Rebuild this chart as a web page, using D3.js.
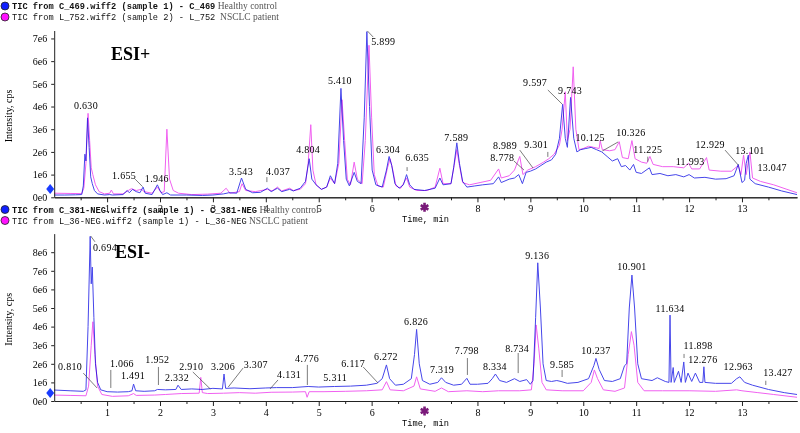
<!DOCTYPE html>
<html>
<head>
<meta charset="utf-8">
<script src="https://cdn.jsdelivr.net/npm/d3@7"></script>
<style>
  body { margin: 0; background: #fff; }
  text { font-family: "Liberation Serif", serif; fill: #000; }
  .mono { font-family: "Liberation Mono", monospace; }
  .axis text { font-family: "Liberation Serif", serif; font-size: 10px; fill: #000; }
  .axis path, .axis line { stroke: #222; }
  .trace { fill: none; stroke-width: 1; stroke-linejoin: round; mix-blend-mode: multiply; }
  .leader { stroke: #444; stroke-width: 0.7; }
</style>
</head>
<body>
<div id="chart"></div>
<script>
const dimensions = { width: 800, height: 433 };

// x ticks (minutes); 7 is replaced by the marker symbol
const timeTicks = [1, 2, 3, 4, 5, 6, 8, 9, 10, 11, 12, 13];
const timeMinorTicks = [0.5, 1.5, 2.5, 3.5, 4.5, 5.5, 6.5, 7.5, 8.5, 9.5, 10.5, 11.5, 12.5, 13.5];
const markerTime = 7;

const posIntensityTicks = [0, 1, 2, 3, 4, 5, 6, 7];
const negIntensityTicks = [0, 1, 2, 3, 4, 5, 6, 7, 8];

// ESI+ traces: [time (min), intensity (1e6 cps)]
const posHealthy = [
  [0.00, 0.10], [0.20, 0.10], [0.40, 0.11], [0.52, 0.12], [0.55, 0.50], [0.58, 1.90], [0.60, 1.60],
  [0.63, 3.50], [0.66, 2.20], [0.69, 0.90], [0.72, 0.60], [0.76, 0.30], [0.82, 0.15], [0.95, 0.10],
  [1.05, 0.12], [1.10, 0.10], [1.30, 0.12], [1.38, 0.30], [1.42, 0.20], [1.48, 0.35], [1.55, 0.25],
  [1.62, 0.20], [1.68, 0.45], [1.72, 0.18], [1.85, 0.12], [1.95, 0.55], [2.00, 0.30], [2.05, 0.12],
  [2.13, 0.20], [2.20, 0.10], [2.50, 0.10], [2.80, 0.08], [3.00, 0.10], [3.20, 0.15], [3.30, 0.20],
  [3.45, 0.18], [3.54, 0.85], [3.62, 0.35], [3.75, 0.20], [3.90, 0.22], [4.03, 0.40], [4.10, 0.25],
  [4.22, 0.40], [4.30, 0.25], [4.45, 0.35], [4.52, 0.28], [4.65, 0.40], [4.75, 0.70], [4.82, 1.70],
  [4.87, 0.80], [4.95, 0.55], [5.05, 0.35], [5.15, 0.45], [5.22, 0.95], [5.30, 0.60], [5.36, 1.50],
  [5.42, 4.80], [5.47, 2.50], [5.52, 0.80], [5.58, 0.50], [5.67, 1.10], [5.73, 0.70], [5.80, 0.60],
  [5.86, 3.50], [5.91, 7.30], [5.96, 4.00], [6.01, 1.20], [6.08, 0.55], [6.20, 0.45], [6.28, 1.20],
  [6.33, 1.80], [6.38, 1.40], [6.44, 0.60], [6.52, 0.40], [6.60, 0.55], [6.66, 1.00], [6.72, 0.55],
  [6.80, 0.35], [7.00, 0.30], [7.20, 0.40], [7.29, 0.85], [7.35, 0.55], [7.50, 0.60], [7.55, 1.30],
  [7.61, 2.40], [7.66, 1.50], [7.72, 0.70], [7.80, 0.45], [7.95, 0.50], [8.10, 0.55], [8.30, 0.60],
  [8.40, 0.90], [8.45, 0.65], [8.60, 0.80], [8.70, 0.85], [8.78, 1.00], [8.85, 0.60], [8.92, 1.10],
  [9.00, 1.15], [9.10, 1.25], [9.20, 1.40], [9.30, 1.55], [9.40, 1.65], [9.48, 1.90], [9.55, 2.60],
  [9.61, 4.10], [9.66, 2.60], [9.70, 2.20], [9.76, 4.40], [9.82, 2.60], [9.88, 2.00], [9.95, 2.10],
  [10.05, 2.15], [10.15, 2.20], [10.25, 2.10], [10.35, 2.00], [10.45, 1.80], [10.55, 1.60], [10.65, 1.70],
  [10.72, 1.35], [10.80, 1.40], [10.88, 1.20], [10.95, 1.45], [11.00, 1.10], [11.10, 1.05], [11.25, 1.30],
  [11.30, 1.00], [11.45, 1.05], [11.60, 0.95], [11.75, 1.00], [11.90, 0.90], [12.00, 1.00], [12.10, 0.85],
  [12.30, 0.88], [12.50, 0.80], [12.70, 0.82], [12.85, 0.95], [12.93, 1.45], [13.00, 0.65], [13.05, 0.75],
  [13.08, 1.50], [13.12, 1.86], [13.15, 0.80], [13.25, 0.60], [13.50, 0.45], [13.75, 0.28], [14.04, 0.12]
];

const posPatient = [
  [0.00, 0.18], [0.30, 0.17], [0.52, 0.16], [0.56, 0.40], [0.60, 1.50], [0.64, 3.70], [0.67, 2.50],
  [0.70, 1.30], [0.73, 1.00], [0.78, 0.55], [0.85, 0.25], [0.95, 0.15], [1.05, 0.18], [1.08, 0.32],
  [1.12, 0.15], [1.30, 0.15], [1.40, 0.30], [1.46, 0.38], [1.55, 0.30], [1.65, 0.35], [1.70, 0.25],
  [1.85, 0.18], [1.95, 0.45], [2.02, 0.20], [2.08, 0.25], [2.13, 3.00], [2.18, 0.80], [2.25, 0.30],
  [2.35, 0.18], [2.60, 0.12], [2.90, 0.14], [3.15, 0.18], [3.25, 0.40], [3.32, 0.18], [3.50, 0.25],
  [3.55, 0.60], [3.62, 0.30], [3.80, 0.25], [4.03, 0.35], [4.12, 0.28], [4.22, 0.45], [4.30, 0.28],
  [4.45, 0.40], [4.52, 0.30], [4.65, 0.35], [4.75, 0.60], [4.80, 1.50], [4.85, 3.20], [4.89, 1.20],
  [4.95, 0.55], [5.05, 0.35], [5.15, 0.45], [5.22, 0.85], [5.30, 0.60], [5.38, 1.50], [5.44, 4.30],
  [5.49, 2.50], [5.54, 0.80], [5.60, 0.55], [5.67, 1.55], [5.73, 0.80], [5.82, 0.60], [5.88, 2.50],
  [5.95, 6.70], [6.00, 3.50], [6.05, 1.00], [6.12, 0.50], [6.22, 0.45], [6.30, 1.30], [6.35, 1.70],
  [6.40, 1.20], [6.46, 0.50], [6.55, 0.40], [6.66, 0.85], [6.72, 0.45], [6.85, 0.30], [7.05, 0.30],
  [7.20, 0.45], [7.29, 1.28], [7.35, 0.60], [7.50, 0.60], [7.56, 1.40], [7.61, 2.10], [7.66, 1.40],
  [7.72, 0.65], [7.85, 0.55], [8.05, 0.65], [8.25, 0.75], [8.40, 1.25], [8.45, 0.85], [8.60, 0.95],
  [8.70, 1.20], [8.80, 1.80], [8.86, 1.00], [8.95, 1.20], [9.10, 1.35], [9.25, 1.55], [9.35, 1.70],
  [9.45, 1.90], [9.55, 2.30], [9.60, 3.00], [9.66, 4.65], [9.70, 2.50], [9.75, 3.00], [9.81, 5.75],
  [9.86, 3.00], [9.92, 2.10], [10.00, 2.15], [10.10, 2.25], [10.20, 2.20], [10.30, 2.15], [10.32, 2.50],
  [10.36, 2.10], [10.50, 2.05], [10.60, 2.10], [10.68, 2.45], [10.74, 1.75], [10.85, 1.70], [10.92, 2.50],
  [10.98, 1.70], [11.10, 1.55], [11.20, 1.50], [11.26, 1.80], [11.32, 1.45], [11.50, 1.35], [11.70, 1.35],
  [11.90, 1.30], [11.99, 1.50], [12.05, 1.25], [12.20, 1.25], [12.33, 1.75], [12.38, 1.20], [12.60, 1.15],
  [12.80, 1.15], [12.93, 1.40], [12.98, 1.00], [13.03, 1.86], [13.08, 1.00], [13.15, 2.00], [13.20, 0.85],
  [13.35, 0.70], [13.60, 0.55], [13.85, 0.35], [14.04, 0.20]
];

// ESI- traces
const negHealthy = [
  [0.00, 0.59], [0.30, 0.55], [0.55, 0.52], [0.60, 0.60], [0.64, 4.00], [0.68, 8.85], [0.70, 6.30],
  [0.72, 7.20], [0.75, 4.50], [0.78, 2.00], [0.82, 1.00], [0.88, 0.60], [1.00, 0.50], [1.20, 0.48],
  [1.40, 0.50], [1.47, 0.55], [1.50, 0.91], [1.54, 0.55], [1.70, 0.52], [1.90, 0.55], [1.95, 0.62],
  [2.10, 0.60], [2.30, 0.62], [2.34, 0.85], [2.40, 0.62], [2.60, 0.65], [2.80, 0.62], [3.00, 0.68],
  [3.18, 0.65], [3.21, 1.45], [3.24, 0.68], [3.40, 0.70], [3.70, 0.66], [4.00, 0.70], [4.20, 0.72],
  [4.50, 0.72], [4.80, 0.78], [5.00, 0.75], [5.30, 0.78], [5.60, 0.80], [5.90, 0.85], [6.10, 0.95],
  [6.20, 1.20], [6.28, 1.94], [6.34, 1.20], [6.45, 0.85], [6.60, 0.90], [6.75, 1.20], [6.81, 2.50],
  [6.85, 3.85], [6.90, 2.00], [6.96, 1.10], [7.10, 0.90], [7.25, 1.00], [7.32, 1.25], [7.40, 1.00],
  [7.55, 0.85], [7.70, 0.90], [7.80, 1.22], [7.86, 0.90], [8.00, 0.90], [8.20, 0.95], [8.28, 1.20],
  [8.34, 1.45], [8.42, 1.10], [8.55, 1.00], [8.70, 1.20], [8.80, 1.05], [8.93, 1.15], [9.00, 0.90],
  [9.05, 1.10], [9.10, 4.50], [9.14, 7.43], [9.19, 5.00], [9.24, 2.00], [9.30, 1.10], [9.40, 1.05],
  [9.50, 1.10], [9.58, 1.05], [9.70, 0.95], [9.90, 1.00], [10.10, 1.20], [10.20, 1.90], [10.24, 2.29],
  [10.30, 1.70], [10.40, 1.10], [10.55, 1.05], [10.70, 1.20], [10.78, 1.90], [10.82, 2.00], [10.87, 5.00],
  [10.92, 6.77], [10.97, 5.00], [11.03, 2.00], [11.10, 1.20], [11.30, 1.10], [11.40, 1.25], [11.55, 1.05],
  [11.62, 1.00], [11.64, 4.62], [11.66, 1.00], [11.70, 1.80], [11.72, 1.00], [11.80, 1.60], [11.85, 1.00],
  [11.90, 2.10], [11.93, 1.00], [11.98, 1.50], [12.05, 1.05], [12.12, 1.50], [12.20, 1.00], [12.26, 1.00],
  [12.28, 1.84], [12.30, 1.00], [12.50, 0.95], [12.80, 0.95], [12.90, 1.20], [12.96, 1.30], [13.05, 1.00],
  [13.20, 0.85], [13.50, 0.62], [13.80, 0.45], [14.04, 0.35]
];

const negPatient = [
  [0.00, 0.32], [0.30, 0.30], [0.60, 0.28], [0.65, 0.80], [0.70, 3.00], [0.73, 4.26], [0.77, 2.50],
  [0.82, 0.80], [0.90, 0.35], [1.10, 0.25], [1.40, 0.28], [1.50, 0.40], [1.55, 0.30], [1.90, 0.32],
  [2.10, 0.35], [2.40, 0.40], [2.74, 0.42], [2.77, 1.27], [2.80, 0.45], [2.90, 0.40], [3.20, 0.42],
  [3.50, 0.45], [3.80, 0.42], [4.10, 0.47], [4.50, 0.48], [4.75, 0.50], [4.78, 0.20], [4.82, 0.50],
  [5.10, 0.50], [5.50, 0.52], [5.90, 0.55], [6.20, 0.60], [6.28, 1.04], [6.35, 0.60], [6.60, 0.55],
  [6.80, 0.80], [6.85, 1.30], [6.92, 0.65], [7.20, 0.52], [7.32, 0.70], [7.45, 0.50], [7.80, 0.55],
  [8.10, 0.50], [8.40, 0.55], [8.80, 0.55], [9.02, 0.60], [9.07, 2.00], [9.11, 4.09], [9.16, 2.80],
  [9.22, 1.00], [9.30, 0.60], [9.60, 0.55], [10.00, 0.55], [10.15, 1.00], [10.21, 1.67], [10.27, 1.20],
  [10.38, 0.60], [10.60, 0.52], [10.78, 0.70], [10.85, 2.50], [10.91, 3.73], [10.96, 3.00], [11.03, 1.00],
  [11.15, 0.55], [11.50, 0.55], [12.00, 0.55], [12.50, 0.52], [12.90, 0.60], [13.00, 0.55], [13.30, 0.45],
  [13.60, 0.35], [14.04, 0.20]
];

// peak labels: text, anchor (time, intensity), optional leader [t1, v1, t2, v2]
const posLabels = [
  { text: '0.630', t: 0.60, v: 3.87 },
  { text: '1.655', t: 1.32, v: 0.81, leader: [1.53, 0.80, 1.67, 0.47] },
  { text: '1.946', t: 1.94, v: 0.67 },
  { text: '3.543', t: 3.53, v: 1.00 },
  { text: '4.037', t: 4.23, v: 1.00, leader: [4.02, 0.89, 4.02, 0.67] },
  { text: '4.804', t: 4.80, v: 1.97 },
  { text: '5.410', t: 5.40, v: 5.01 },
  { text: '5.899', t: 6.22, v: 6.69, leader: [5.92, 7.33, 6.03, 7.06] },
  { text: '6.304', t: 6.31, v: 1.97 },
  { text: '6.635', t: 6.86, v: 1.58, leader: [6.67, 1.33, 6.67, 1.16] },
  { text: '7.589', t: 7.60, v: 2.50 },
  { text: '8.778', t: 8.47, v: 1.58, leader: [8.69, 1.60, 8.88, 1.20] },
  { text: '8.989', t: 8.52, v: 2.15, leader: [8.80, 2.08, 9.05, 1.29] },
  { text: '9.301', t: 9.11, v: 2.19, leader: [9.33, 2.00, 9.33, 1.78] },
  { text: '9.597', t: 9.09, v: 4.92, leader: [9.33, 4.73, 9.60, 4.11] },
  { text: '9.743', t: 9.75, v: 4.57 },
  { text: '10.125', t: 10.13, v: 2.46 },
  { text: '10.326', t: 10.90, v: 2.68, leader: [10.66, 2.44, 10.36, 2.04] },
  { text: '11.225', t: 11.22, v: 1.97, leader: [11.22, 1.79, 11.22, 1.57] },
  { text: '11.993', t: 12.02, v: 1.44 },
  { text: '12.929', t: 12.40, v: 2.19, leader: [12.68, 2.08, 12.93, 1.42] },
  { text: '13.101', t: 13.15, v: 1.89 },
  { text: '13.047', t: 13.57, v: 1.18 }
];

const negLabels = [
  { text: '0.694', t: 0.96, v: 8.09, leader: [0.69, 8.87, 0.77, 8.56] },
  { text: '0.810', t: 0.30, v: 1.69, leader: [0.55, 1.50, 0.81, 0.70] },
  { text: '1.066', t: 1.28, v: 1.85, leader: [1.07, 1.67, 1.07, 0.70] },
  { text: '1.491', t: 1.49, v: 1.16 },
  { text: '1.952', t: 1.95, v: 2.02, leader: [1.97, 1.83, 1.97, 0.86] },
  { text: '2.332', t: 2.32, v: 1.05 },
  { text: '2.910', t: 2.59, v: 1.67, leader: [2.62, 1.56, 2.95, 0.65] },
  { text: '3.206', t: 3.19, v: 1.67 },
  { text: '3.307', t: 3.81, v: 1.80, leader: [3.57, 1.77, 3.29, 0.75] },
  { text: '4.131', t: 4.44, v: 1.21, leader: [4.23, 1.13, 4.08, 0.65] },
  { text: '4.776', t: 4.78, v: 2.07, leader: [4.785, 1.94, 4.785, 0.86] },
  { text: '5.311', t: 5.31, v: 1.05 },
  { text: '6.117', t: 5.65, v: 1.85, leader: [5.84, 1.83, 6.12, 0.97] },
  { text: '6.272', t: 6.27, v: 2.18 },
  { text: '6.826', t: 6.84, v: 4.08 },
  { text: '7.319', t: 7.33, v: 1.48 },
  { text: '7.798', t: 7.80, v: 2.55, leader: [7.81, 2.31, 7.81, 1.40] },
  { text: '8.334', t: 8.33, v: 1.64 },
  { text: '8.734', t: 8.75, v: 2.66, leader: [8.77, 2.58, 8.77, 1.50] },
  { text: '9.136', t: 9.13, v: 7.66 },
  { text: '9.585', t: 9.60, v: 1.80, leader: [9.60, 1.67, 9.60, 1.29] },
  { text: '10.237', t: 10.24, v: 2.55 },
  { text: '10.901', t: 10.92, v: 7.02 },
  { text: '11.634', t: 11.64, v: 4.81 },
  { text: '11.898', t: 12.17, v: 2.77, leader: [11.905, 2.53, 11.905, 2.31] },
  { text: '12.276', t: 12.26, v: 2.02 },
  { text: '12.963', t: 12.93, v: 1.64 },
  { text: '13.427', t: 13.68, v: 1.32, leader: [13.45, 1.09, 13.45, 0.86] }
];

const posLegend = [
  { name: 'TIC from C_469.wiff2 (sample 1) - C_469', note: ' Healthy control' },
  { name: 'TIC from L_752.wiff2 (sample 2) - L_752', note: '  NSCLC patient' }
];
const negLegend = [
  { name: 'TIC from C_381-NEG.wiff2 (sample 1) - C_381-NEG', note: ' Healthy control' },
  { name: 'TIC from L_36-NEG.wiff2 (sample 1) - L_36-NEG', note: ' NSCLC patient' }
];

const healthyColor = '#4646ea';
const patientColor = '#f060f0';

const svg = d3.select('#chart')
    .append('svg')
    .attr('width', dimensions.width)
    .attr('height', dimensions.height);

svg.append('rect')
    .attr('width', dimensions.width)
    .attr('height', dimensions.height)
    .attr('fill', '#fff');

const x = d3.scaleLinear().domain([0, 14.04]).range([54.2, 797]);

const panels = [
    { top: 30.5, bottom: 197.3, yMax: 7.35, ticks: posIntensityTicks,
      healthy: posHealthy, patient: posPatient, labels: posLabels,
      legend: posLegend, legendY: 6, title: 'ESI+', titleX: 111, titleY: 60, threshold: 0.37 },
    { top: 233.6, bottom: 401, yMax: 9.0, ticks: negIntensityTicks,
      healthy: negHealthy, patient: negPatient, labels: negLabels,
      legend: negLegend, legendY: 209.5, title: 'ESI-', titleX: 115, titleY: 258, threshold: 0.43 }
];

panels.forEach(p => {
    const y = d3.scaleLinear().domain([0, p.yMax]).range([p.bottom, p.top]);
    const g = svg.append('g');

    // legend
    p.legend.forEach((item, i) => {
        const cy = p.legendY + i * 11;
        g.append('circle')
            .attr('cx', 5).attr('cy', cy).attr('r', 4)
            .attr('fill', i === 0 ? '#1020ff' : '#ff10ff')
            .attr('stroke', '#222').attr('stroke-width', 0.8);
        const t = g.append('text')
            .attr('x', 12).attr('y', cy + 3.3)
            .attr('xml:space', 'preserve')
            .style('white-space', 'pre');
        t.append('tspan')
            .attr('class', 'mono')
            .attr('font-size', '8.7px')
            .attr('font-weight', i === 0 ? 'bold' : 'normal')
            .attr('fill', '#111')
            .text(item.name);
        t.append('tspan')
            .attr('font-size', '9.5px')
            .attr('fill', '#555')
            .text(item.note);
    });

    // axes
    const xAxis = d3.axisBottom(x)
        .tickValues(timeTicks)
        .tickSize(5)
        .tickSizeOuter(0)
        .tickPadding(3)
        .tickFormat(d3.format('d'));
    const xMinor = d3.axisBottom(x)
        .tickValues(timeMinorTicks)
        .tickSize(3)
        .tickSizeOuter(0)
        .tickFormat('');
    const yAxis = d3.axisLeft(y)
        .tickValues(p.ticks)
        .tickSize(3)
        .tickSizeOuter(0)
        .tickPadding(4)
        .tickFormat(d => d === 0 ? '0e0' : d + 'e6');

    g.append('g').attr('class', 'axis')
        .attr('transform', `translate(0, ${p.bottom})`)
        .call(xMinor);
    g.append('g').attr('class', 'axis')
        .attr('transform', `translate(0, ${p.bottom})`)
        .call(xAxis);
    g.append('g').attr('class', 'axis')
        .attr('transform', `translate(${x(0)}, 0)`)
        .call(yAxis);

    // traces
    const line = d3.line()
        .x(d => x(d[0]))
        .y(d => y(d[1]));

    g.append('path')
        .datum(p.healthy)
        .attr('class', 'trace')
        .attr('stroke', healthyColor)
        .attr('d', line);
    g.append('path')
        .datum(p.patient)
        .attr('class', 'trace')
        .attr('stroke', patientColor)
        .attr('d', line);

    // peak labels
    p.labels.filter(d => d.leader).forEach(d => {
        g.append('line')
            .attr('class', 'leader')
            .attr('x1', x(d.leader[0])).attr('y1', y(d.leader[1]))
            .attr('x2', x(d.leader[2])).attr('y2', y(d.leader[3]));
    });
    g.selectAll('text.peak')
        .data(p.labels)
        .enter()
        .append('text')
            .attr('class', 'peak')
            .attr('x', d => x(d.t))
            .attr('y', d => y(d.v))
            .attr('text-anchor', 'middle')
            .attr('font-size', '10px')
            .attr('letter-spacing', '0.3px')
            .text(d => d.text);

    // threshold marker at the intensity axis
    g.append('path')
        .attr('d', d3.symbol().type(d3.symbolDiamond).size(45))
        .attr('transform', `translate(${x(0) - 4}, ${y(p.threshold)}) scale(1.1, 0.8)`)
        .attr('fill', '#1a3cff');

    // marker at 7 min in place of the tick label
    const mk = g.append('g')
        .attr('transform', `translate(${x(markerTime)}, ${p.bottom + 10})`);
    mk.append('path')
        .attr('d', d3.symbol().type(d3.symbolAsterisk).size(55))
        .attr('stroke', '#7a1a7a').attr('stroke-width', 2.6).attr('fill', 'none');
    mk.append('circle').attr('r', 2.2).attr('fill', '#7a1a7a');

    // axis titles
    g.append('text')
        .attr('class', 'mono')
        .attr('x', 402)
        .attr('y', p.bottom + 25)
        .attr('font-size', '8.7px')
        .text('Time, min');
    g.append('text')
        .attr('transform', `translate(12, ${(p.top + p.bottom) / 2 + 2}) rotate(-90)`)
        .attr('text-anchor', 'middle')
        .attr('font-size', '10px')
        .text('Intensity, cps');

    g.append('text')
        .attr('x', p.titleX)
        .attr('y', p.titleY)
        .attr('font-size', '18px')
        .attr('font-weight', 'bold')
        .text(p.title);
});
</script>
</body>
</html>
